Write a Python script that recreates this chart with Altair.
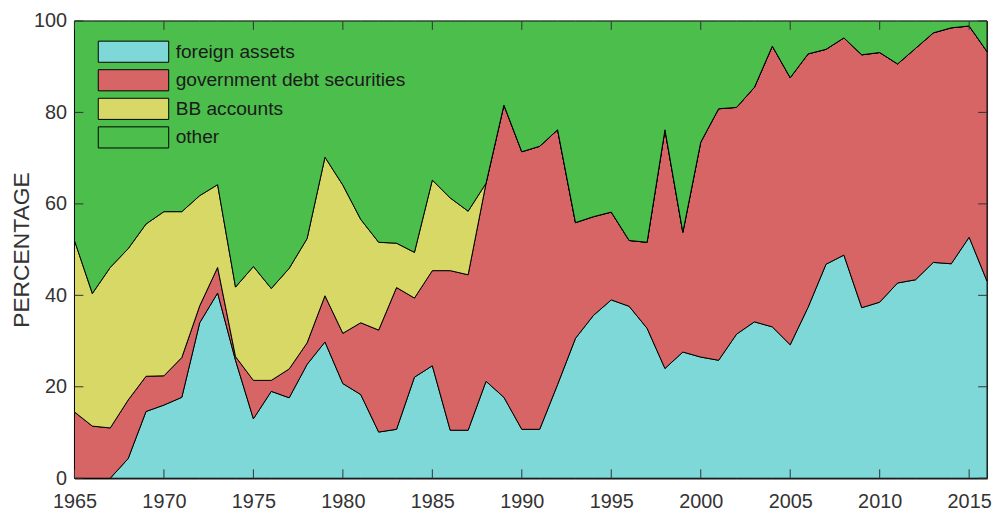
import altair as alt
import pandas as pd

years = list(range(1965, 2017))
foreign_assets = [0, 0, 0, 4.3, 14.6, 16.0, 17.7, 34.0, 40.5, 25.8,
                  13.0, 19.0, 17.6, 24.9, 29.8, 20.7, 18.3, 10.1, 10.7, 22.1,
                  24.6, 10.5, 10.5, 21.2, 17.7, 10.7, 10.7, 20.5, 30.6, 35.6,
                  39.0, 37.6, 32.8, 24.0, 27.6, 26.5, 25.8, 31.5, 34.2, 33.1,
                  29.2, 37.4, 46.8, 48.8, 37.3, 38.5, 42.7, 43.4, 47.2, 46.9,
                  52.7, 43.1]
government_debt = [14.5, 11.4, 11.0, 12.8, 7.7, 6.4, 8.7, 3.7, 5.6, 0.8,
                   8.4, 2.4, 6.3, 4.7, 10.1, 11.0, 15.7, 22.3, 31.0, 17.3,
                   20.8, 34.9, 34.0, 43.3, 63.9, 60.7, 61.9, 55.7, 25.3, 21.6,
                   19.2, 14.4, 18.8, 52.2, 26.2, 47.0, 55.0, 49.6, 51.3, 61.4,
                   58.4, 55.4, 47.0, 47.5, 55.3, 54.6, 47.9, 50.6, 50.2, 51.6,
                   46.2, 50.2]
bb_accounts = [37.5, 29.0, 35.1, 33.1, 33.3, 35.9, 31.9, 24.1, 18.1, 15.2,
               24.9, 20.1, 22.0, 22.8, 30.3, 32.4, 22.6, 19.2, 9.7, 10.0,
               19.8, 15.9, 13.9, 0, 0, 0, 0, 0, 0, 0,
               0, 0, 0, 0, 0, 0, 0, 0, 0, 0,
               0, 0, 0, 0, 0, 0, 0, 0, 0, 0,
               0, 0]
other = [48.0, 59.6, 53.9, 49.8, 44.4, 41.7, 41.7, 38.2, 35.8, 58.2,
         53.7, 58.5, 54.1, 47.6, 29.8, 35.9, 43.4, 48.4, 48.6, 50.6,
         34.8, 38.7, 41.6, 35.5, 18.4, 28.6, 27.4, 23.8, 44.1, 42.8,
         41.8, 48.0, 48.4, 23.8, 46.2, 26.5, 19.2, 18.9, 14.5, 5.5,
         12.4, 7.2, 6.2, 3.7, 7.4, 6.9, 9.4, 6.0, 2.6, 1.5,
         1.1, 6.7]

series_names = ["foreign assets", "government debt securities", "BB accounts", "other"]
series_colors = ["#7fd8d8", "#d76565", "#d8d866", "#4cbe4c"]
x_tick_values = [1965, 1970, 1975, 1980, 1985, 1990, 1995, 2000, 2005, 2010, 2015]
y_tick_values = [0, 20, 40, 60, 80, 100]

rows = []
for i, (name, vals) in enumerate(zip(series_names, [foreign_assets, government_debt, bb_accounts, other])):
    for yr, v in zip(years, vals):
        rows.append({"year": yr, "value": v, "series": name, "ord": i})
df = pd.DataFrame(rows)

W, H = 920, 461
TICK = 9
xscale = alt.Scale(domain=[1965, 2016], nice=False, zero=False)
yscale = alt.Scale(domain=[0, 100], nice=False)

x_axis = alt.Axis(values=x_tick_values, format="d", ticks=False, grid=False, title=None,
                  labelFontSize=20, labelColor="#333333", labelPadding=13,
                  domainColor="#444444", domainWidth=1.5, labelFlush=False,
                  labelOverlap=False)
y_axis = alt.Axis(values=y_tick_values, ticks=False, grid=False, title="PERCENTAGE",
                  labelFontSize=20, labelColor="#333333", labelPadding=8,
                  domainColor="#444444", domainWidth=1.5,
                  titleFontSize=23, titleFontWeight="normal", titleColor="#333333",
                  titleX=-53, titleY=H / 2, titleAngle=270, titleAlign="center",
                  titleBaseline="middle")

area = alt.Chart(df).mark_area(stroke="black", strokeWidth=1, opacity=1, interpolate="linear").encode(
    x=alt.X("year:Q", scale=xscale, axis=x_axis),
    y=alt.Y("value:Q", stack="zero", scale=yscale, axis=y_axis),
    color=alt.Color("series:N", sort=series_names,
                    scale=alt.Scale(domain=series_names, range=series_colors),
                    legend=alt.Legend(orient="none", legendX=47, legendY=18.5, title=None,
                                      symbolType="M-3,-0.9H3V0.9H-3Z", symbolSize=560,
                                      symbolStrokeColor="black", symbolStrokeWidth=1,
                                      symbolOpacity=1, labelFontSize=19.3, labelColor="#1a1a1a",
                                      labelOffset=30, rowPadding=1.8, padding=0,
                                      labelLimit=500)),
    order=alt.Order("ord:Q"),
)

ydf = pd.DataFrame({"value": y_tick_values})
xdf = pd.DataFrame({"year": x_tick_values})

left_ticks = alt.Chart(ydf).mark_rule(color="#333333", strokeWidth=1).encode(
    y=alt.Y("value:Q", scale=yscale, axis=y_axis), x=alt.value(0), x2=alt.value(TICK))
right_ticks = alt.Chart(ydf).mark_rule(color="#333333", strokeWidth=1).encode(
    y=alt.Y("value:Q", scale=yscale, axis=y_axis), x=alt.value(W - TICK), x2=alt.value(W))
bottom_ticks = alt.Chart(xdf).mark_rule(color="#333333", strokeWidth=1).encode(
    x=alt.X("year:Q", scale=xscale, axis=x_axis), y=alt.value(H - TICK), y2=alt.value(H))
top_ticks = alt.Chart(xdf).mark_rule(color="#333333", strokeWidth=1).encode(
    x=alt.X("year:Q", scale=xscale, axis=x_axis), y=alt.value(0), y2=alt.value(TICK))

chart = alt.layer(area, left_ticks, right_ticks, bottom_ticks, top_ticks).properties(
    width=W, height=H,
    autosize=alt.AutoSizeParams(type="none"),
    padding={"left": 67, "top": 11, "right": 6, "bottom": 37},
).configure(font="Liberation Sans").configure_view(stroke="#444444", strokeWidth=1)

chart.save("out.html", embed_options={"renderer": "svg", "actions": False})
